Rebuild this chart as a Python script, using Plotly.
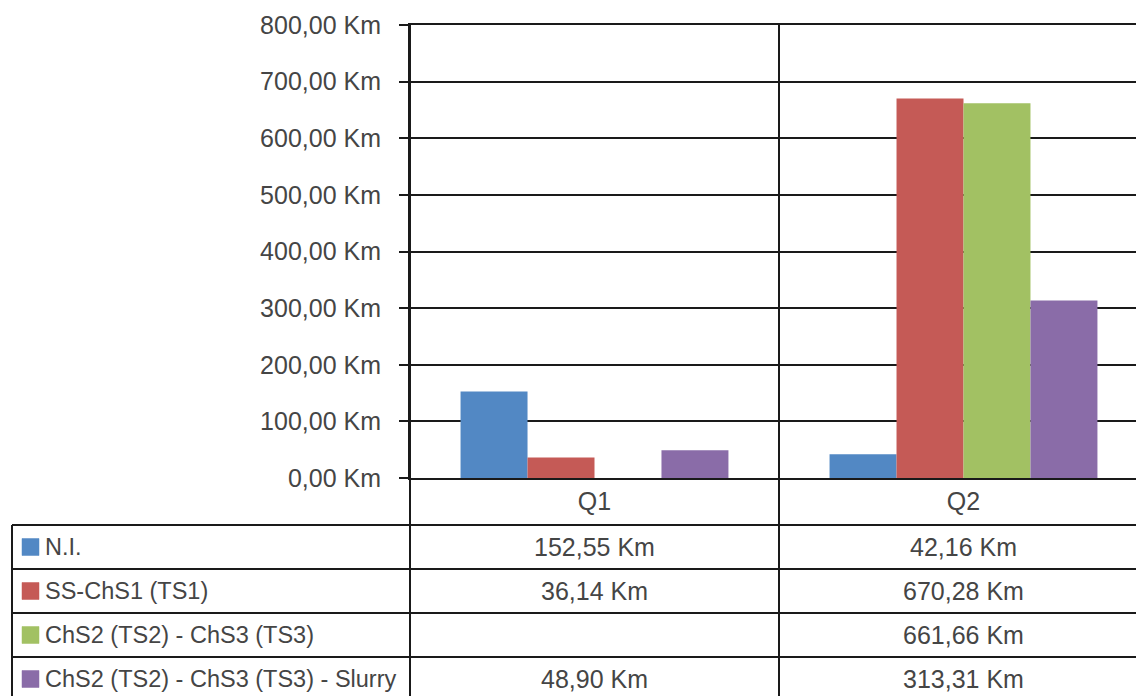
import plotly.graph_objects as go

# ---- data ----
categories = ["Q1", "Q2"]
series_names = ["N.I.", "SS-ChS1 (TS1)", "ChS2 (TS2) - ChS3 (TS3)", "ChS2 (TS2) - ChS3 (TS3) - Slurry"]
ni = [152.55, 42.16]
ss_chs1 = [36.14, 670.28]
chs2_chs3 = [None, 661.66]
chs2_chs3_slurry = [48.90, 313.31]
series_values = [ni, ss_chs1, chs2_chs3, chs2_chs3_slurry]
tick_values = [0, 100, 200, 300, 400, 500, 600, 700, 800]
tick_labels = ["0,00 Km", "100,00 Km", "200,00 Km", "300,00 Km", "400,00 Km",
               "500,00 Km", "600,00 Km", "700,00 Km", "800,00 Km"]

# ---- style ----
colors = ["#5288C4", "#C55A56", "#A2C163", "#8A6CA8"]
FONT = "Liberation Sans, Arial, sans-serif"
TXT = "#454545"
LINE = "#1a1a1a"
W, H = 1136, 696
ML, MT, MB = 410, 25, 218
PW, PH = W - ML, H - MT - MB
NUM_SIZE = 25
NAME_SIZE = 23.5


def fmt(v):
    if v is None:
        return ""
    return f"{v:.2f}".replace(".", ",") + " Km"


def px_x(p):  # pixel -> paper x
    return (p - ML) / PW


def px_y(p):  # pixel -> paper y
    return (H - MB - p) / PH


fig = go.Figure()
for name, vals, col in zip(series_names, series_values, colors):
    fig.add_trace(go.Bar(x=categories, y=vals, name=name, marker_color=col,
                         marker_line_width=0, showlegend=False))

shapes = []
line = dict(color=LINE, width=2)
# table geometry (pixels)
table_left = 12
row_tops = [525, 569, 613, 657]
row_h = 44
table_bottom = row_tops[-1] + row_h + 10
# horizontal table lines
for r in row_tops:
    shapes.append(dict(type="line", xref="paper", yref="paper",
                       x0=px_x(table_left), x1=1, y0=px_y(r), y1=px_y(r), line=line))
# table left border
shapes.append(dict(type="line", xref="paper", yref="paper",
                   x0=px_x(table_left), x1=px_x(table_left),
                   y0=px_y(row_tops[0]), y1=px_y(table_bottom), line=line))
# y axis line extended down through table
shapes.append(dict(type="line", xref="paper", yref="paper",
                   x0=0, x1=0, y0=px_y(table_bottom), y1=1, line=line))
# category boundary line extended
shapes.append(dict(type="line", xref="x", yref="paper",
                   x0=0.5, x1=0.5, y0=px_y(table_bottom), y1=1, line=line))

annotations = []
for i, (name, vals, col) in enumerate(zip(series_names, series_values, colors)):
    yc = row_tops[i] + row_h / 2
    shapes.append(dict(type="rect", xref="paper", yref="paper",
                       x0=px_x(22), x1=px_x(39), y0=px_y(yc - 8.5), y1=px_y(yc + 8.5),
                       fillcolor=col, line=dict(color=col, width=0.5)))
    annotations.append(dict(xref="paper", yref="paper", x=px_x(43), y=px_y(yc),
                            text=name, showarrow=False, xanchor="left", yanchor="middle",
                            font=dict(family=FONT, size=NAME_SIZE, color=TXT)))
    for c, v in zip(categories, vals):
        annotations.append(dict(xref="x", yref="paper", x=c, y=px_y(yc),
                                text=fmt(v), showarrow=False, xanchor="center", yanchor="middle",
                                font=dict(family=FONT, size=NUM_SIZE, color=TXT)))

fig.update_layout(
    width=W, height=H,
    margin=dict(l=ML, r=0, t=MT, b=MB, pad=0),
    paper_bgcolor="white", plot_bgcolor="white",
    barmode="group", bargap=0.274, bargroupgap=0,
    shapes=shapes, annotations=annotations,
    font=dict(family=FONT, size=NUM_SIZE, color=TXT),
    xaxis=dict(range=[-0.5, 1.4675], showgrid=False, showline=True, mirror=True,
               linecolor=LINE, linewidth=2, ticks="",
               tickfont=dict(family=FONT, size=NUM_SIZE, color=TXT),
               fixedrange=True),
    yaxis=dict(range=[0, 800], tickvals=tick_values, ticktext=tick_labels,
               showgrid=True, gridcolor=LINE, gridwidth=2,
               showline=True, linecolor=LINE, linewidth=2,
               ticks="outside", ticklen=9, tickcolor=LINE, tickwidth=2,
               ticklabelstandoff=13,
               zeroline=False, tickfont=dict(family=FONT, size=NUM_SIZE, color=TXT),
               fixedrange=True),
)

fig.write_html("out.html")
